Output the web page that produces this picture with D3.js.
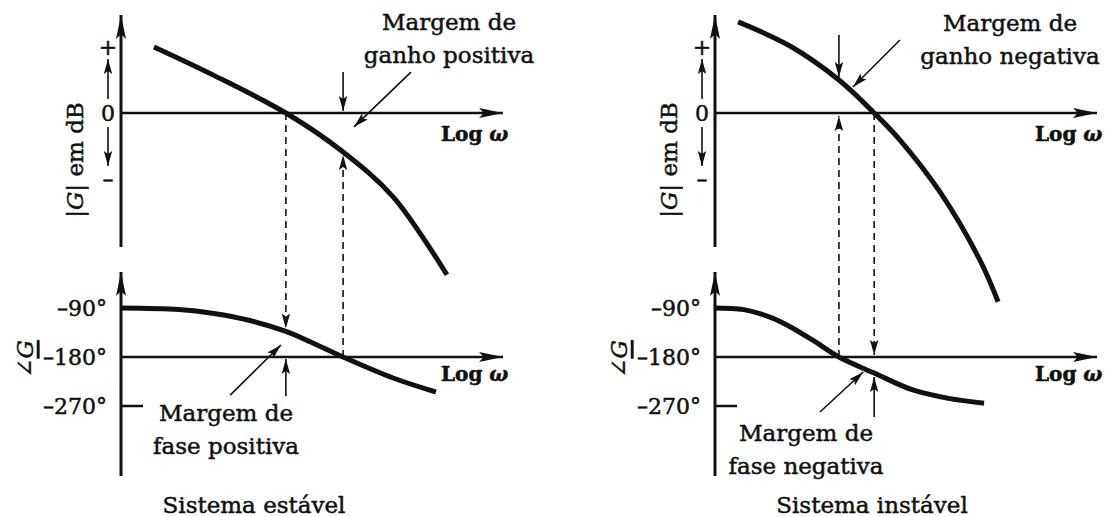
<!DOCTYPE html>
<html>
<head>
<meta charset="utf-8">
<script src="https://cdn.jsdelivr.net/npm/d3@7"></script>
<style>
  body { margin: 0; background: #fff; }
  text { font-family: "DejaVu Serif", serif; fill: #111; stroke: #111; stroke-width: 0.5px; }
</style>
</head>
<body>
<svg id="chart"></svg>
<script>
// values; x is log(omega) in arbitrary units 0..10
const gainTickDb = [10, 0, -10];
const gainTickLabels = ["+", "0", "–"];
const phaseTickDeg = [-90, -180, -270];
const phaseTickLabels = ["–90°", "–180°", "–270°"];

// stable system
const stableMagW = [0.87, 2.45, 4.35, 5.86, 7.18, 8.6];
const stableMagDb = [10, 5.7, 0, -5.9, -12.7, -24.5];
const stablePhaseW = [0, 1.53, 2.45, 3.4, 4.35, 5.02, 5.86, 7.18, 8.31];
const stablePhaseDeg = [-90, -92.8, -100, -113, -133, -153, -180, -218.6, -244.3];
const stableCross = { gain: 4.35, phase: 5.86, magAtPhase: -5.9, phaseAtGain: -133 };

// unstable system
const unstableMagW = [0.61, 1.98, 3.27, 4.2, 4.88, 5.94, 6.99, 7.47];
const unstableMagDb = [13.8, 10.15, 5.0, 0, -4.1, -12.0, -22.3, -28.6];
const unstablePhaseW = [0, 0.76, 1.5, 1.97, 2.62, 3.27, 4.2, 5.22, 6.16, 7.1];
const unstablePhaseDeg = [-90, -93, -108, -124, -151, -180, -209.5, -240.6, -256, -265];
const unstableCross = { gain: 4.2, phase: 3.27, magAtPhase: 5.0, phaseAtGain: -209.5 };

const w = 1111, h = 517;
const svg = d3.select("#chart").attr("width", w).attr("height", h);

// arrow heads
const defs = svg.append("defs");
function addHead(id, len, half) {
  defs.append("marker")
    .attr("id", id)
    .attr("markerUnits", "userSpaceOnUse")
    .attr("viewBox", `${-len - 1} ${-half - 1} ${len + 2} ${2 * half + 2}`)
    .attr("markerWidth", len + 2)
    .attr("markerHeight", 2 * half + 2)
    .attr("refX", 0).attr("refY", 0)
    .attr("orient", "auto")
    .append("path")
    .attr("d", `M0,0 L${-len},${-half} L${-len * 0.8},0 L${-len},${half} Z`)
    .attr("fill", "#111");
}
addHead("big", 24, 5);
addHead("small", 15, 4.2);

// scales shared by both panels (panel is shifted as a group)
const x = d3.scaleLinear().domain([0, 10]).range([121, 500]);
const yMag = d3.scaleLinear().domain([0, 10]).range([113, 47]);
const yPh = d3.scaleLinear().domain([-90, -180]).range([308, 357]);

function arrow(g, x1, y1, x2, y2, sw, head, dash) {
  const l = g.append("line")
    .attr("x1", x1).attr("y1", y1).attr("x2", x2).attr("y2", y2)
    .attr("stroke", "#111").attr("stroke-width", sw);
  if (head) l.attr("marker-end", `url(#${head})`);
  if (dash) l.attr("stroke-dasharray", dash);
  return l;
}

function label(g, tx, ty, lines, size) {
  const t = g.append("text")
    .attr("text-anchor", "middle")
    .attr("font-size", size || 23);
  lines.forEach((s, i) => {
    t.append("tspan").attr("x", tx).attr("y", ty + i * 33).text(s);
  });
}

function drawPanel(p) {
  const g = svg.append("g").attr("transform", `translate(${p.off},0)`);
  const x0 = x(0);

  // magnitude axes
  arrow(g, x0, 247, x0, 15, 3, "big");
  arrow(g, x0, yMag(0), 503, yMag(0), 2.5, "big");
  // phase axes
  arrow(g, x0, 476, x0, 272, 3, "big");
  arrow(g, x0, yPh(-180), 503, yPh(-180), 2.5, "big");
  g.append("line")
    .attr("x1", x0).attr("x2", x0 + 22)
    .attr("y1", yPh(-270)).attr("y2", yPh(-270))
    .attr("stroke", "#111").attr("stroke-width", 2.5);

  // gain tick signs and the little arrows between them
  g.selectAll(".gtick").data(gainTickDb).join("text")
    .attr("class", "gtick")
    .attr("x", 108).attr("y", d => yMag(d))
    .attr("text-anchor", "middle").attr("dominant-baseline", "central")
    .attr("font-size", 22)
    .text((d, i) => gainTickLabels[i]);
  arrow(g, 108, yMag(0) - 14, 108, yMag(10) + 12, 1.6, "small");
  arrow(g, 108, yMag(0) + 14, 108, yMag(-10) - 13, 1.6, "small");

  g.selectAll(".ptick").data(phaseTickDeg).join("text")
    .attr("class", "ptick")
    .attr("x", 107).attr("y", d => yPh(d))
    .attr("text-anchor", "end").attr("dominant-baseline", "central")
    .attr("font-size", 22)
    .text((d, i) => phaseTickLabels[i]);

  // axis titles
  const gt = g.append("text")
    .attr("transform", "translate(75,160) rotate(-90)")
    .attr("text-anchor", "middle").attr("dominant-baseline", "central")
    .attr("font-size", 23);
  gt.append("tspan").text("|");
  gt.append("tspan").attr("font-style", "italic").text("G");
  gt.append("tspan").text("| em dB");

  const pt = g.append("text")
    .attr("transform", "translate(25,359) rotate(-90)")
    .attr("text-anchor", "middle").attr("dominant-baseline", "central")
    .attr("font-size", 23);
  pt.append("tspan").text("∠");
  pt.append("tspan").attr("font-style", "italic")
    .attr("text-decoration", "underline").text("G");

  [yMag(0) + 21, yPh(-180) + 17].forEach(yy => {
    const t = g.append("text")
      .attr("x", 441).attr("y", yy)
      .attr("dominant-baseline", "central")
      .attr("font-size", 20).attr("font-weight", "bold");
    t.append("tspan").text("Log ");
    t.append("tspan").attr("font-style", "italic").text("ω");
  });

  // curves
  const magLine = d3.line().x(d => x(d[0])).y(d => yMag(d[1])).curve(d3.curveCatmullRom.alpha(0.5));
  const phLine = d3.line().x(d => x(d[0])).y(d => yPh(d[1])).curve(d3.curveCatmullRom.alpha(0.5));
  g.append("path").datum(d3.zip(p.magW, p.magDb))
    .attr("d", magLine)
    .attr("fill", "none").attr("stroke", "#111").attr("stroke-width", 5);
  g.append("path").datum(d3.zip(p.phW, p.phDeg))
    .attr("d", phLine)
    .attr("fill", "none").attr("stroke", "#111").attr("stroke-width", 5);

  // margin markers
  const c = p.cross;
  const xg = x(c.gain), xp = x(c.phase);
  const dash = "7,5";
  if (p.stable) {
    arrow(g, xp, yMag(6.2), xp, yMag(0) - 2, 1.6, "small");
    arrow(g, xp, yPh(-180), xp, yMag(c.magAtPhase) + 3, 1.6, "small", dash);
    arrow(g, xg, yMag(0), xg, yPh(c.phaseAtGain) - 3, 1.6, "small", dash);
    arrow(g, xg, yPh(-252), xg, yPh(-180) + 2, 1.6, "small");
  } else {
    arrow(g, xp, yMag(11.8), xp, yMag(c.magAtPhase) - 3, 1.6, "small");
    arrow(g, xp, yPh(-180), xp, yMag(0) + 3, 1.6, "small", dash);
    arrow(g, xg, yMag(0), xg, yPh(-180) - 2, 1.6, "small", dash);
    arrow(g, xg, yPh(-290), xg, yPh(c.phaseAtGain) + 4, 1.6, "small");
  }

  // label pointers
  const lg = p.gainPointer, lp = p.phasePointer;
  arrow(g, x(lg[0]), yMag(lg[1]), x(lg[2]), yMag(lg[3]), 1.6, "small");
  arrow(g, x(lp[0]), yPh(lp[1]), x(lp[2]), yPh(lp[3]), 1.6, "small");

  label(g, p.gainText[0], p.gainText[1], ["Margem de", p.gainText[2]]);
  label(g, p.phaseText[0], p.phaseText[1], ["Margem de", p.phaseText[2]]);
  label(g, p.title[0], 513, [p.title[1]]);
}

drawPanel({
  off: 0, stable: true,
  magW: stableMagW, magDb: stableMagDb,
  phW: stablePhaseW, phDeg: stablePhaseDeg,
  cross: stableCross,
  gainPointer: [7.65, 6.2, 6.15, -2.1],
  phasePointer: [2.88, -250, 4.22, -158],
  gainText: [449, 30, "ganho positiva"],
  phaseText: [226, 421, "fase positiva"],
  title: [254, "Sistema estável"]
});

drawPanel({
  off: 594, stable: false,
  magW: unstableMagW, magDb: unstableMagDb,
  phW: unstablePhaseW, phDeg: unstablePhaseDeg,
  cross: unstableCross,
  gainPointer: [4.88, 11.06, 3.64, 3.94],
  phasePointer: [2.77, -281, 3.91, -207.6],
  gainText: [416, 31, "ganho negativa"],
  phaseText: [212, 441, "fase negativa"],
  title: [278, "Sistema instável"]
});
</script>
</body>
</html>
